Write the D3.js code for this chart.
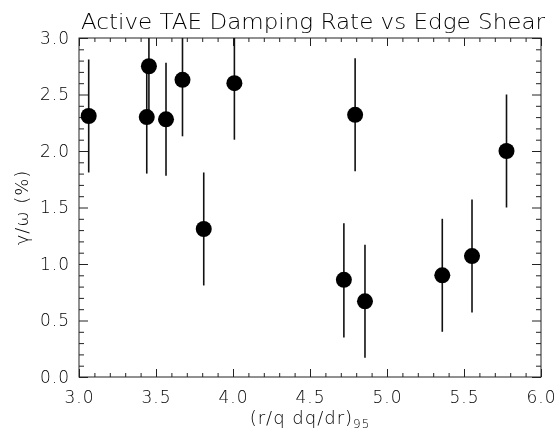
<!DOCTYPE html>
<html>
<head>
<meta charset="utf-8">
<script src="https://cdn.jsdelivr.net/npm/d3@7"></script>
<style>
  html, body { margin: 0; padding: 0; background: #fff; }
  svg { display: block; will-change: transform; }
  text { font-family: "DejaVu Sans", "Liberation Sans", sans-serif; fill: #000; }
</style>
</head>
<body>
<script>
// ---- data ----
const shear  = [3.063, 3.440, 3.454, 3.565, 3.672, 3.810, 4.009, 4.720, 4.793, 4.857, 5.359, 5.552, 5.776];
const damping = [2.31, 2.30, 2.75, 2.28, 2.63, 1.31, 2.60, 0.86, 2.32, 0.67, 0.90, 1.07, 2.00];
const errLow  = [1.81, 1.80, 2.25, 1.78, 2.13, 0.81, 2.10, 0.35, 1.82, 0.17, 0.40, 0.57, 1.50];
const errHigh = [2.81, 2.80, 3.25, 2.78, 3.13, 1.81, 3.10, 1.36, 2.82, 1.17, 1.40, 1.57, 2.50];
const xMajorTicks = [3.0, 3.5, 4.0, 4.5, 5.0, 5.5, 6.0];
const yMajorTicks = [0.0, 0.5, 1.0, 1.5, 2.0, 2.5, 3.0];
const titleText = "Active TAE Damping Rate vs Edge Shear";
const yLabelText = "γ/ω (%)";
const xLabelMain = "(r/q dq/dr)";
const xLabelSub = "95";

// ---- layout ----
const W = 559, H = 442;
const L = 79, R = 541, T = 38, B = 377;

const svg = d3.select("body").append("svg").attr("width", W).attr("height", H);

const x = d3.scaleLinear().domain([3, 6]).range([L, R]);
const y = d3.scaleLinear().domain([0, 3]).range([B, T]);

const xMinor = d3.range(30, 61).map(v => v / 10).filter(v => !xMajorTicks.some(m => Math.abs(m - v) < 1e-9));
const yMinor = d3.range(0, 31).map(v => v / 10).filter(v => !yMajorTicks.some(m => Math.abs(m - v) < 1e-9));

const axisStyle = g => {
  g.select(".domain").remove();
  g.selectAll("line").attr("stroke", "#222").attr("stroke-width", 1);
  g.selectAll("text").attr("font-size", 17).attr("letter-spacing", 1).attr("fill", "#000").style("font-weight", 300);
};

// bottom
svg.append("g").attr("transform", `translate(0,${B})`)
  .call(d3.axisBottom(x).tickValues(xMajorTicks).tickSize(-8).tickPadding(14).tickFormat(d3.format(".1f")))
  .call(axisStyle);
svg.append("g").attr("transform", `translate(0,${B})`)
  .call(d3.axisBottom(x).tickValues(xMinor).tickSize(-4).tickFormat(""))
  .call(axisStyle);
// top
svg.append("g").attr("transform", `translate(0,${T})`)
  .call(d3.axisTop(x).tickValues(xMajorTicks).tickSize(-8).tickFormat(""))
  .call(axisStyle);
svg.append("g").attr("transform", `translate(0,${T})`)
  .call(d3.axisTop(x).tickValues(xMinor).tickSize(-4).tickFormat(""))
  .call(axisStyle);
// left
svg.append("g").attr("transform", `translate(${L},0)`)
  .call(d3.axisLeft(y).tickValues(yMajorTicks).tickSize(-9).tickPadding(9).tickFormat(d3.format(".1f")))
  .call(axisStyle);
svg.append("g").attr("transform", `translate(${L},0)`)
  .call(d3.axisLeft(y).tickValues(yMinor).tickSize(-5).tickFormat(""))
  .call(axisStyle);
// right
svg.append("g").attr("transform", `translate(${R},0)`)
  .call(d3.axisRight(y).tickValues(yMajorTicks).tickSize(-9).tickFormat(""))
  .call(axisStyle);
svg.append("g").attr("transform", `translate(${R},0)`)
  .call(d3.axisRight(y).tickValues(yMinor).tickSize(-5).tickFormat(""))
  .call(axisStyle);

// frame
svg.append("rect").attr("x", L).attr("y", T).attr("width", R - L).attr("height", B - T)
  .attr("fill", "none").attr("stroke", "#222").attr("stroke-width", 1);

// clip for error bars
svg.append("clipPath").attr("id", "plotclip").append("rect")
  .attr("x", L).attr("y", T).attr("width", R - L).attr("height", B - T);

const idx = d3.range(shear.length);
const gPts = svg.append("g").attr("clip-path", "url(#plotclip)");
gPts.selectAll("line.err").data(idx).join("line").attr("class", "err")
  .attr("x1", i => x(shear[i])).attr("x2", i => x(shear[i]))
  .attr("y1", i => y(errLow[i])).attr("y2", i => y(errHigh[i]))
  .attr("stroke", "#111").attr("stroke-width", 1.6);
gPts.selectAll("circle").data(idx).join("circle")
  .attr("cx", i => x(shear[i])).attr("cy", i => y(damping[i])).attr("r", 8)
  .attr("fill", "#000");

// title
svg.append("text").attr("x", 313).attr("y", 29).attr("text-anchor", "middle")
  .attr("font-size", 22).style("font-weight", 300)
  .attr("textLength", 464).attr("lengthAdjust", "spacingAndGlyphs")
  .text(titleText);

// y label
svg.append("text").attr("transform", `translate(28,${(T + B) / 2}) rotate(-90)`)
  .attr("text-anchor", "middle").attr("font-size", 18).attr("letter-spacing", 1).style("font-weight", 300)
  .text(yLabelText);

// x label
const xl = svg.append("text").attr("x", (L + R) / 2).attr("y", 424).attr("text-anchor", "middle")
  .attr("font-size", 18).attr("letter-spacing", 1).style("font-weight", 300);
xl.append("tspan").text(xLabelMain);
xl.append("tspan").attr("font-size", 12).attr("dy", 4).text(xLabelSub);
</script>
</body>
</html>
